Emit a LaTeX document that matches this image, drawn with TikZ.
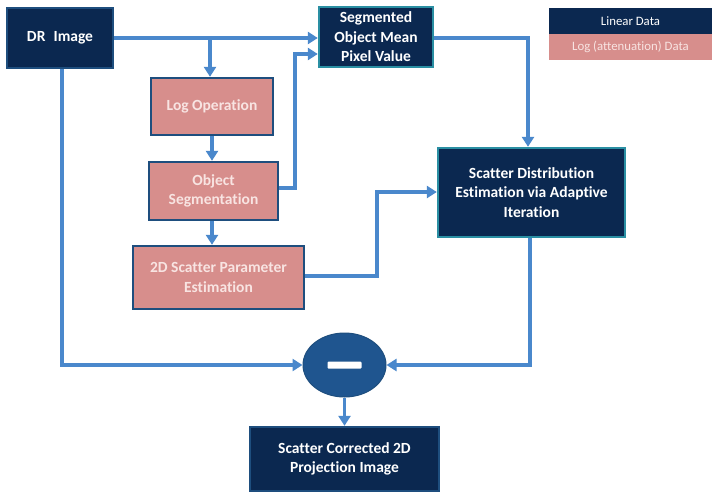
\documentclass[tikz,border=0pt]{standalone}
\usepackage{fontspec}
\setmainfont{Carlito}[Ligatures=NoCommon]
\usetikzlibrary{arrows.meta,calc,shapes.geometric}
\definecolor{navy}{HTML}{0B2850}
\definecolor{navyedge}{HTML}{1E4E7E}
\definecolor{tealedge}{HTML}{2A8FA3}
\definecolor{pinkfill}{HTML}{D78E8C}
\definecolor{pinktext}{HTML}{F8E4E2}
\definecolor{arrowblue}{HTML}{4A88CC}
\definecolor{ellfill}{HTML}{1F558F}
\tikzset{
  base/.style={rectangle, draw, line width=2.4pt, align=center, font=\bfseries\fontsize{15.5}{19.5}\selectfont, inner sep=0pt},
  darkbox/.style={base, fill=navy, draw=navyedge, text=white},
  tealbox/.style={base, fill=navy, draw=tealedge, text=white},
  pinkbox/.style={base, fill=pinkfill, draw=navyedge, text=pinktext},
  conn/.style={draw=arrowblue, line width=3.2pt, -{Triangle[length=10pt,width=12pt]}},
  legend/.style={rectangle, inner sep=0pt, font=\fontsize{12.8}{14}\selectfont, minimum width=163pt, minimum height=26pt}
}
\begin{document}
\begin{tikzpicture}[x=1pt,y=-1pt]
\useasboundingbox (0,0) rectangle (712,493);
\fill[white] (0,0) rectangle (712,493);
% nodes
\node[darkbox, minimum width=106pt, minimum height=60pt] (dr) at (60,38) {DR\hspace{0.3em} Image};
\node[tealbox, minimum width=114pt, minimum height=60pt] (seg) at (376,37) {Segmented\\Object Mean\\Pixel Value};
\node[pinkbox, minimum width=122pt, minimum height=57pt] (log) at (212,106.5) {Log Operation};
\node[pinkbox, minimum width=129pt, minimum height=58pt] (obj) at (213.5,191) {Object\\Segmentation};
\node[pinkbox, minimum width=171pt, minimum height=63pt] (par) at (218.5,277.5) {2D Scatter Parameter\\Estimation};
\node[tealbox, minimum width=187pt, minimum height=89pt] (sd) at (531.5,192.5) {Scatter Distribution\\Estimation via Adaptive\\Iteration};
\node[ellipse, draw=navyedge, line width=1pt, fill=ellfill, minimum width=83pt, minimum height=64pt, inner sep=0pt] (minus) at (344.5,365) {};
\fill[white, rounded corners=1pt] ($(minus.center)+(-17,-3.5)$) rectangle ($(minus.center)+(17,3.5)$);
\node[darkbox, minimum width=189pt, minimum height=64pt] (out) at (344.5,459) {Scatter Corrected 2D\\Projection Image};
% legend
\node[legend, fill=navy, text=white] (lin) at (630.5,21) {Linear Data};
\node[legend, fill=pinkfill, text=pinktext] (logd) at (630.5,47) {Log (attenuation) Data};
% connectors
\coordinate (b1) at (210,38);
\draw[conn] (dr.east |- 0,38) -- (seg.west |- 0,38);
\draw[conn] (b1) -- (b1 |- log.north);
\draw[conn] (log.south) -- (obj.north -| log.south);
\draw[conn] (obj.east |- 0,188) -- (295,188) -- (295,54) -- (seg.west |- 0,54);
\draw[conn] (obj.south -| 212,0) -- (par.north -| 212,0);
\draw[conn] (par.east |- 0,276) -- (377,276) -- (377,192) -- (sd.west |- 0,192);
\draw[conn] (seg.east |- 0,38) -- (528,38) -- (sd.north -| 528,0);
\draw[conn] (sd.south -| 530,0) -- (530,365) -- (minus.east);
\draw[conn] (dr.south -| 62,0) -- (62,365) -- (minus.west);
\draw[conn] (minus.south) -- (out.north);
\end{tikzpicture}
\end{document}
